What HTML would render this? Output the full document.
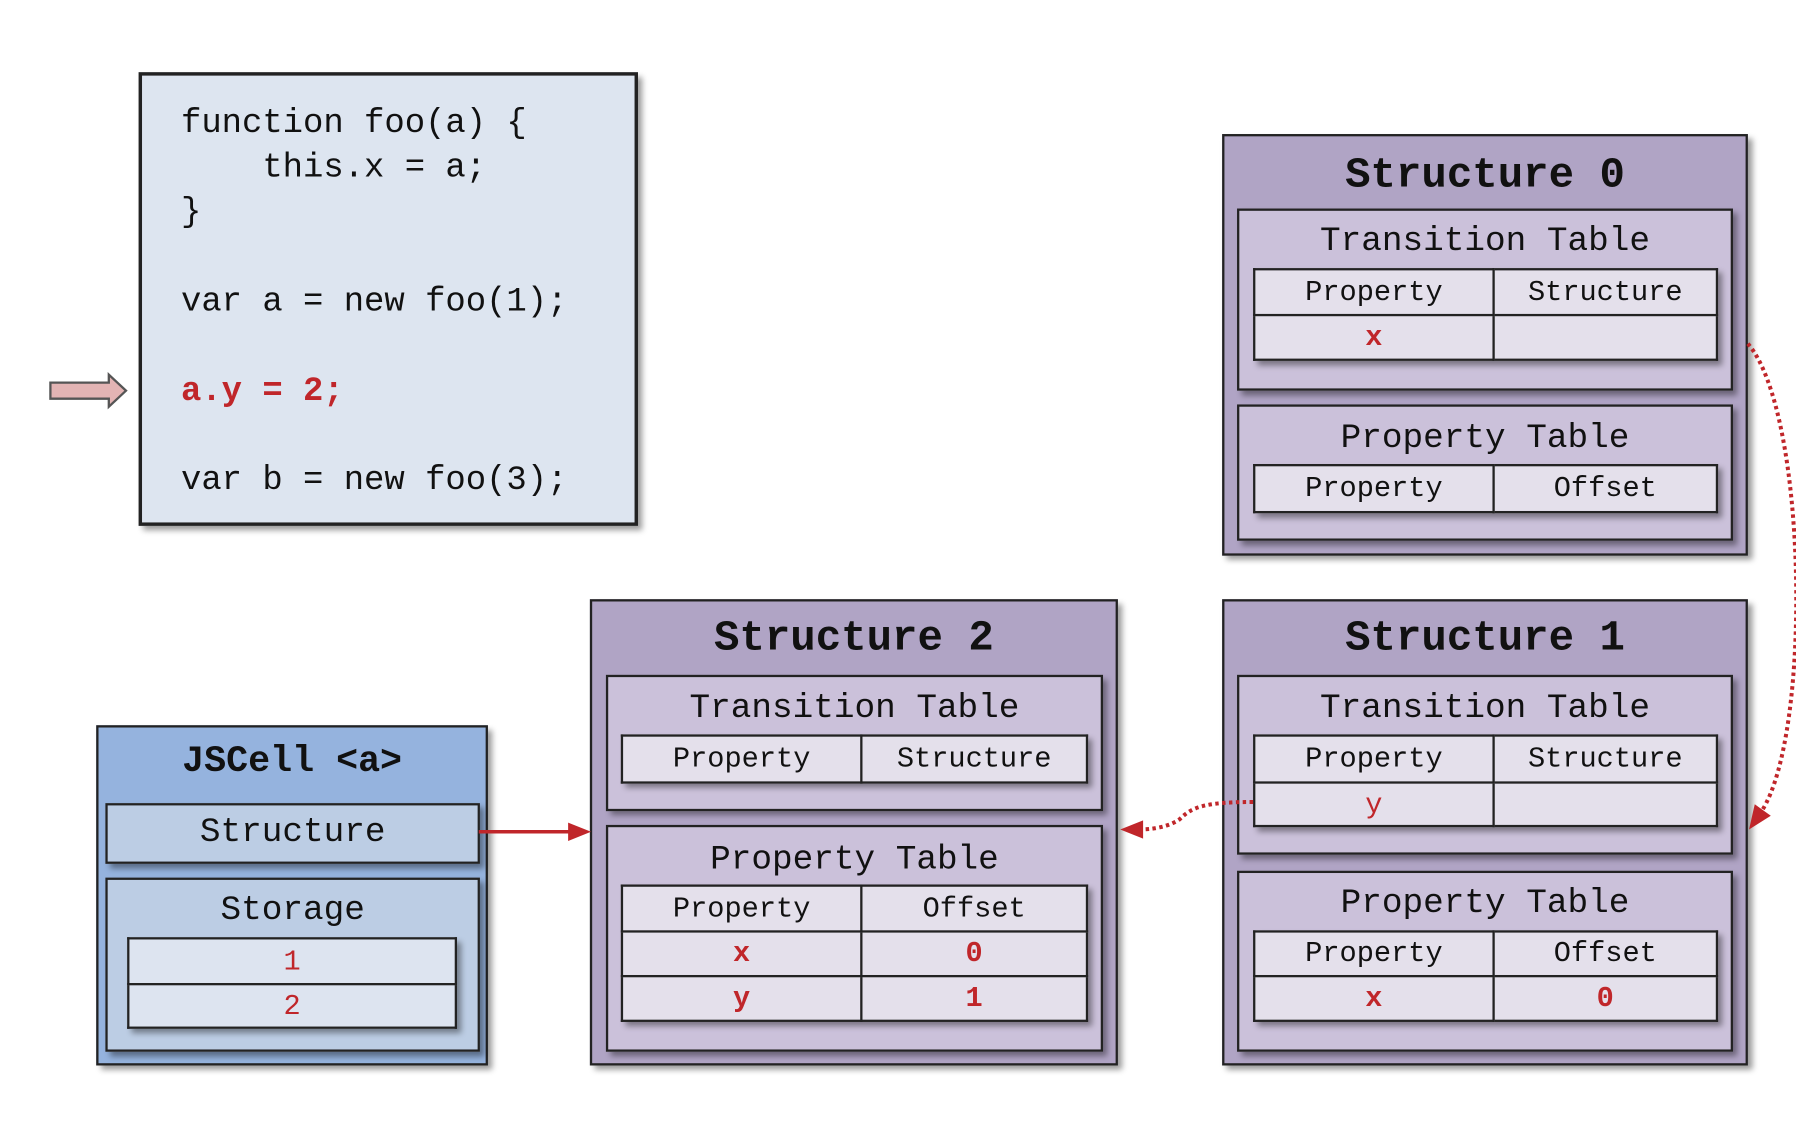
<!DOCTYPE html>
<html><head><meta charset="utf-8"><style>
html,body{margin:0;padding:0;background:#fff;width:1796px;height:1148px;overflow:hidden}
#c{position:absolute;left:0;top:0;width:1568px;height:1002px;transform:scale(1.1454,1.1457);transform-origin:0 0;font-family:"Liberation Mono","DejaVu Sans Mono",monospace;color:#111}
.b{position:absolute;box-sizing:border-box;border:2px solid #222;box-shadow:4px 4px 5px rgba(0,0,0,.4)}
.o{background:#b0a4c5}
.i{background:#cbc1da}
.t{position:absolute;left:0;right:0;text-align:center;white-space:pre}
.h{font-weight:bold;font-size:37px;height:44px;line-height:44px}
.s{font-size:30px;height:36px;line-height:36px}
table{position:absolute;border-collapse:collapse;background:#e4e0eb;box-shadow:4px 4px 5px rgba(0,0,0,.4)}
td{border:2px solid #222;padding:0;text-align:center;font-size:25px;vertical-align:middle}
.r{color:#c0262a;font-weight:bold}
.code{position:absolute;left:158px;font-size:29.6px;height:40px;line-height:40px;white-space:pre}
</style></head><body><div id="c">

<div class="b" style="left:121px;top:63px;width:436px;height:396px;background:#dde5f0;border-width:3px"></div>
<div class="code" style="top:87px">function foo(a) {</div>
<div class="code" style="top:126px">    this.x = a;</div>
<div class="code" style="top:165px">}</div>
<div class="code" style="top:243px">var a = new foo(1);</div>
<div class="code" style="top:321px;color:#c0262a;font-weight:bold">a.y = 2;</div>
<div class="code" style="top:399px">var b = new foo(3);</div>

<!-- Structure 0 -->
<div class="b o" style="left:1067px;top:117px;width:459px;height:368px">
 <div class="t h" style="top:13px">Structure 0</div>
</div>
<div class="b i" style="left:1080px;top:182px;width:433px;height:159px"><div class="t s" style="top:9px">Transition Table</div></div>
<table style="left:1094px;top:234px;width:406px"><tr style="height:40px"><td style="width:207px">Property</td><td>Structure</td></tr><tr style="height:39px"><td class="r">x</td><td></td></tr></table>
<div class="b i" style="left:1080px;top:353px;width:433px;height:119px"><div class="t s" style="top:10px">Property Table</div></div>
<table style="left:1094px;top:405px;width:406px"><tr style="height:41px"><td style="width:207px">Property</td><td>Offset</td></tr></table>

<!-- Structure 1 -->
<div class="b o" style="left:1067px;top:523px;width:459px;height:407px">
 <div class="t h" style="top:11px">Structure 1</div>
</div>
<div class="b i" style="left:1080px;top:589px;width:433px;height:157px"><div class="t s" style="top:10px">Transition Table</div></div>
<table style="left:1094px;top:641px;width:406px"><tr style="height:41px"><td style="width:207px">Property</td><td>Structure</td></tr><tr style="height:38px"><td class="r" style="font-weight:normal">y</td><td></td></tr></table>
<div class="b i" style="left:1080px;top:760px;width:433px;height:158px"><div class="t s" style="top:9px">Property Table</div></div>
<table style="left:1094px;top:812px;width:406px"><tr style="height:39px"><td style="width:207px">Property</td><td>Offset</td></tr><tr style="height:39px"><td class="r">x</td><td class="r">0</td></tr></table>

<!-- Structure 2 -->
<div class="b o" style="left:515px;top:523px;width:461px;height:407px">
 <div class="t h" style="top:11px">Structure 2</div>
</div>
<div class="b i" style="left:529px;top:589px;width:434px;height:119px"><div class="t s" style="top:10px">Transition Table</div></div>
<table style="left:542px;top:641px;width:408px"><tr style="height:41px"><td style="width:207px">Property</td><td>Structure</td></tr></table>
<div class="b i" style="left:529px;top:720px;width:434px;height:198px"><div class="t s" style="top:11px">Property Table</div></div>
<table style="left:542px;top:772px;width:408px"><tr style="height:40px"><td style="width:207px">Property</td><td>Offset</td></tr><tr style="height:39px"><td class="r">x</td><td class="r">0</td></tr><tr style="height:39px"><td class="r">y</td><td class="r">1</td></tr></table>

<!-- JSCell -->
<div class="b" style="left:84px;top:633px;width:342px;height:297px;background:#95b3de">
 <div class="t" style="top:10px;font-weight:bold;font-size:32px;height:40px;line-height:40px">JSCell &lt;a&gt;</div>
</div>
<div class="b" style="left:92px;top:701px;width:327px;height:53px;background:#bccde4"><div class="t s" style="top:6px">Structure</div></div>
<div class="b" style="left:92px;top:766px;width:327px;height:152px;background:#bccde4"><div class="t s" style="top:9px">Storage</div></div>
<table style="left:111px;top:818px;width:288px;background:#dde4f0"><tr style="height:40px"><td style="color:#c0262a">1</td></tr><tr style="height:38px"><td style="color:#c0262a">2</td></tr></table>

<svg style="position:absolute;left:0;top:0;z-index:5" width="1568" height="1002">
<polygon points="44,334 95,334 95,327 110,341 95,355 95,348 44,348" fill="#e3b4b4" stroke="#555" stroke-width="2"/>
<line x1="418" y1="726" x2="500" y2="726" stroke="#c0262a" stroke-width="3"/>
<polygon points="516,726 496,718 496,734" fill="#c0262a"/>
<path d="M1094,700 C1050,700 1040,705 1030,715 C1020,722 1005,724 995,724" fill="none" stroke="#c0262a" stroke-width="3.5" stroke-dasharray="3,3"/>
<polygon points="978,724 998,716 998,732" fill="#c0262a"/>
<path d="M1526,300 C1578,360 1582,640 1538,708" fill="none" stroke="#c0262a" stroke-width="3.5" stroke-dasharray="3,3"/>
<polygon points="1527,724 1532,702 1546,712" fill="#c0262a"/>
</svg>

</div></body></html>
